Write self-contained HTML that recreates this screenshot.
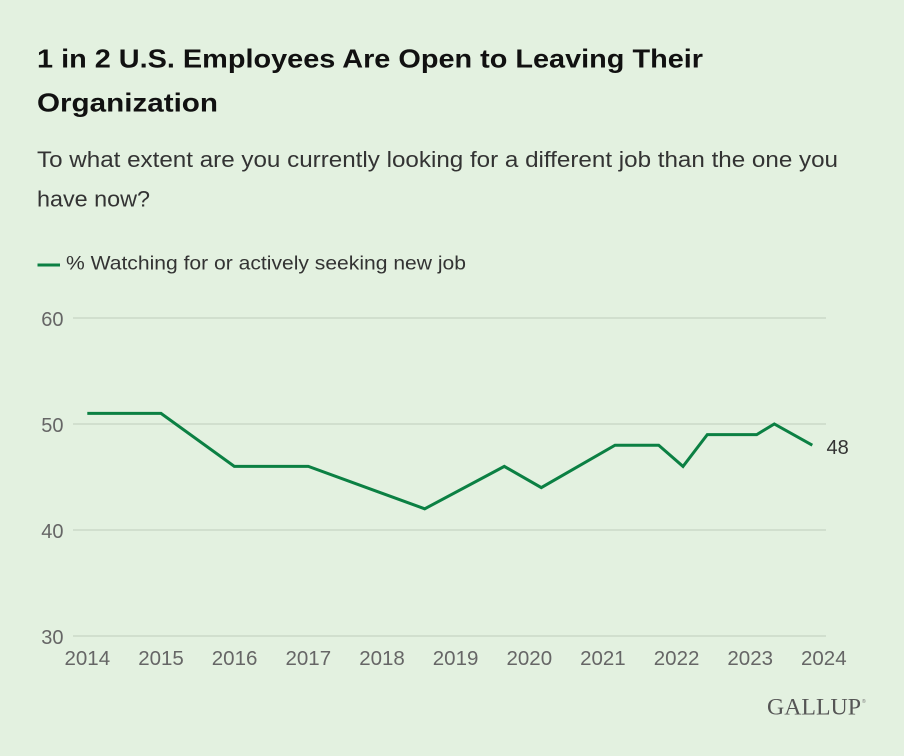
<!DOCTYPE html>
<html>
<head>
<meta charset="utf-8">
<style>
  html, body { margin:0; padding:0; background:#e3f1e0; }
  svg { display:block; }
</style>
</head>
<body>
<svg width="904" height="756" viewBox="0 0 904 756" xmlns="http://www.w3.org/2000/svg">
  <rect x="0" y="0" width="904" height="756" fill="#e3f1e0"/>

  <!-- Title -->
  <g font-family="'Liberation Sans', Arial, sans-serif" font-weight="bold" font-size="26" fill="#111">
    <text x="37" y="67.5" textLength="666" lengthAdjust="spacingAndGlyphs">1 in 2 U.S. Employees Are Open to Leaving Their</text>
    <text x="37" y="111.5" textLength="181" lengthAdjust="spacingAndGlyphs">Organization</text>
  </g>

  <!-- Subtitle -->
  <g font-family="'Liberation Sans', Arial, sans-serif" font-size="22" fill="#333">
    <text x="37" y="167" textLength="801" lengthAdjust="spacingAndGlyphs">To what extent are you currently looking for a different job than the one you</text>
    <text x="37" y="206.5" textLength="113" lengthAdjust="spacingAndGlyphs">have now?</text>
  </g>

  <!-- Legend -->
  <line x1="37.5" y1="265" x2="60" y2="265" stroke="#0b8043" stroke-width="3"/>
  <text x="66" y="269.5" font-family="'Liberation Sans', Arial, sans-serif" font-size="19.5" fill="#333" textLength="400" lengthAdjust="spacingAndGlyphs">% Watching for or actively seeking new job</text>

  <!-- Gridlines -->
  <g stroke="#cbd9c8" stroke-width="1.5">
    <line x1="73" y1="318" x2="826" y2="318"/>
    <line x1="73" y1="424" x2="826" y2="424"/>
    <line x1="73" y1="530" x2="826" y2="530"/>
    <line x1="73" y1="636" x2="826" y2="636"/>
  </g>

  <!-- Y labels -->
  <g font-family="'Liberation Sans', Arial, sans-serif" font-size="20" fill="#666" text-anchor="end">
    <text x="63.5" y="326">60</text>
    <text x="63.5" y="432">50</text>
    <text x="63.5" y="538">40</text>
    <text x="63.5" y="644">30</text>
  </g>

  <!-- X labels -->
  <g font-family="'Liberation Sans', Arial, sans-serif" font-size="20.5" fill="#666" text-anchor="middle">
    <text x="87.3" y="665">2014</text>
    <text x="161" y="665">2015</text>
    <text x="234.6" y="665">2016</text>
    <text x="308.3" y="665">2017</text>
    <text x="382" y="665">2018</text>
    <text x="455.6" y="665">2019</text>
    <text x="529.3" y="665">2020</text>
    <text x="602.9" y="665">2021</text>
    <text x="676.6" y="665">2022</text>
    <text x="750.2" y="665">2023</text>
    <text x="823.8" y="665">2024</text>
  </g>

  <!-- Data line -->
  <polyline fill="none" stroke="#0b8043" stroke-width="3" stroke-linejoin="miter" stroke-linecap="butt"
    points="87.3,413.4 161,413.4 234.3,466.4 308.3,466.4 424.7,508.8 504.3,466.4 541.3,487.6 615,445.2 658.7,445.2 683,466.4 707.3,434.6 756.7,434.6 774.3,424 812.3,445.2"/>

  <!-- End label -->
  <text x="826.5" y="454" font-family="'Liberation Sans', Arial, sans-serif" font-size="20" fill="#333">48</text>

  <!-- Logo -->
  <text x="767" y="714.5" font-family="'Liberation Serif', 'Times New Roman', serif" font-size="23" fill="#555" textLength="94" lengthAdjust="spacingAndGlyphs">GALLUP</text>
  <text x="862" y="703" font-family="'Liberation Sans', Arial, sans-serif" font-size="5" fill="#777">®</text>
</svg>
</body>
</html>
